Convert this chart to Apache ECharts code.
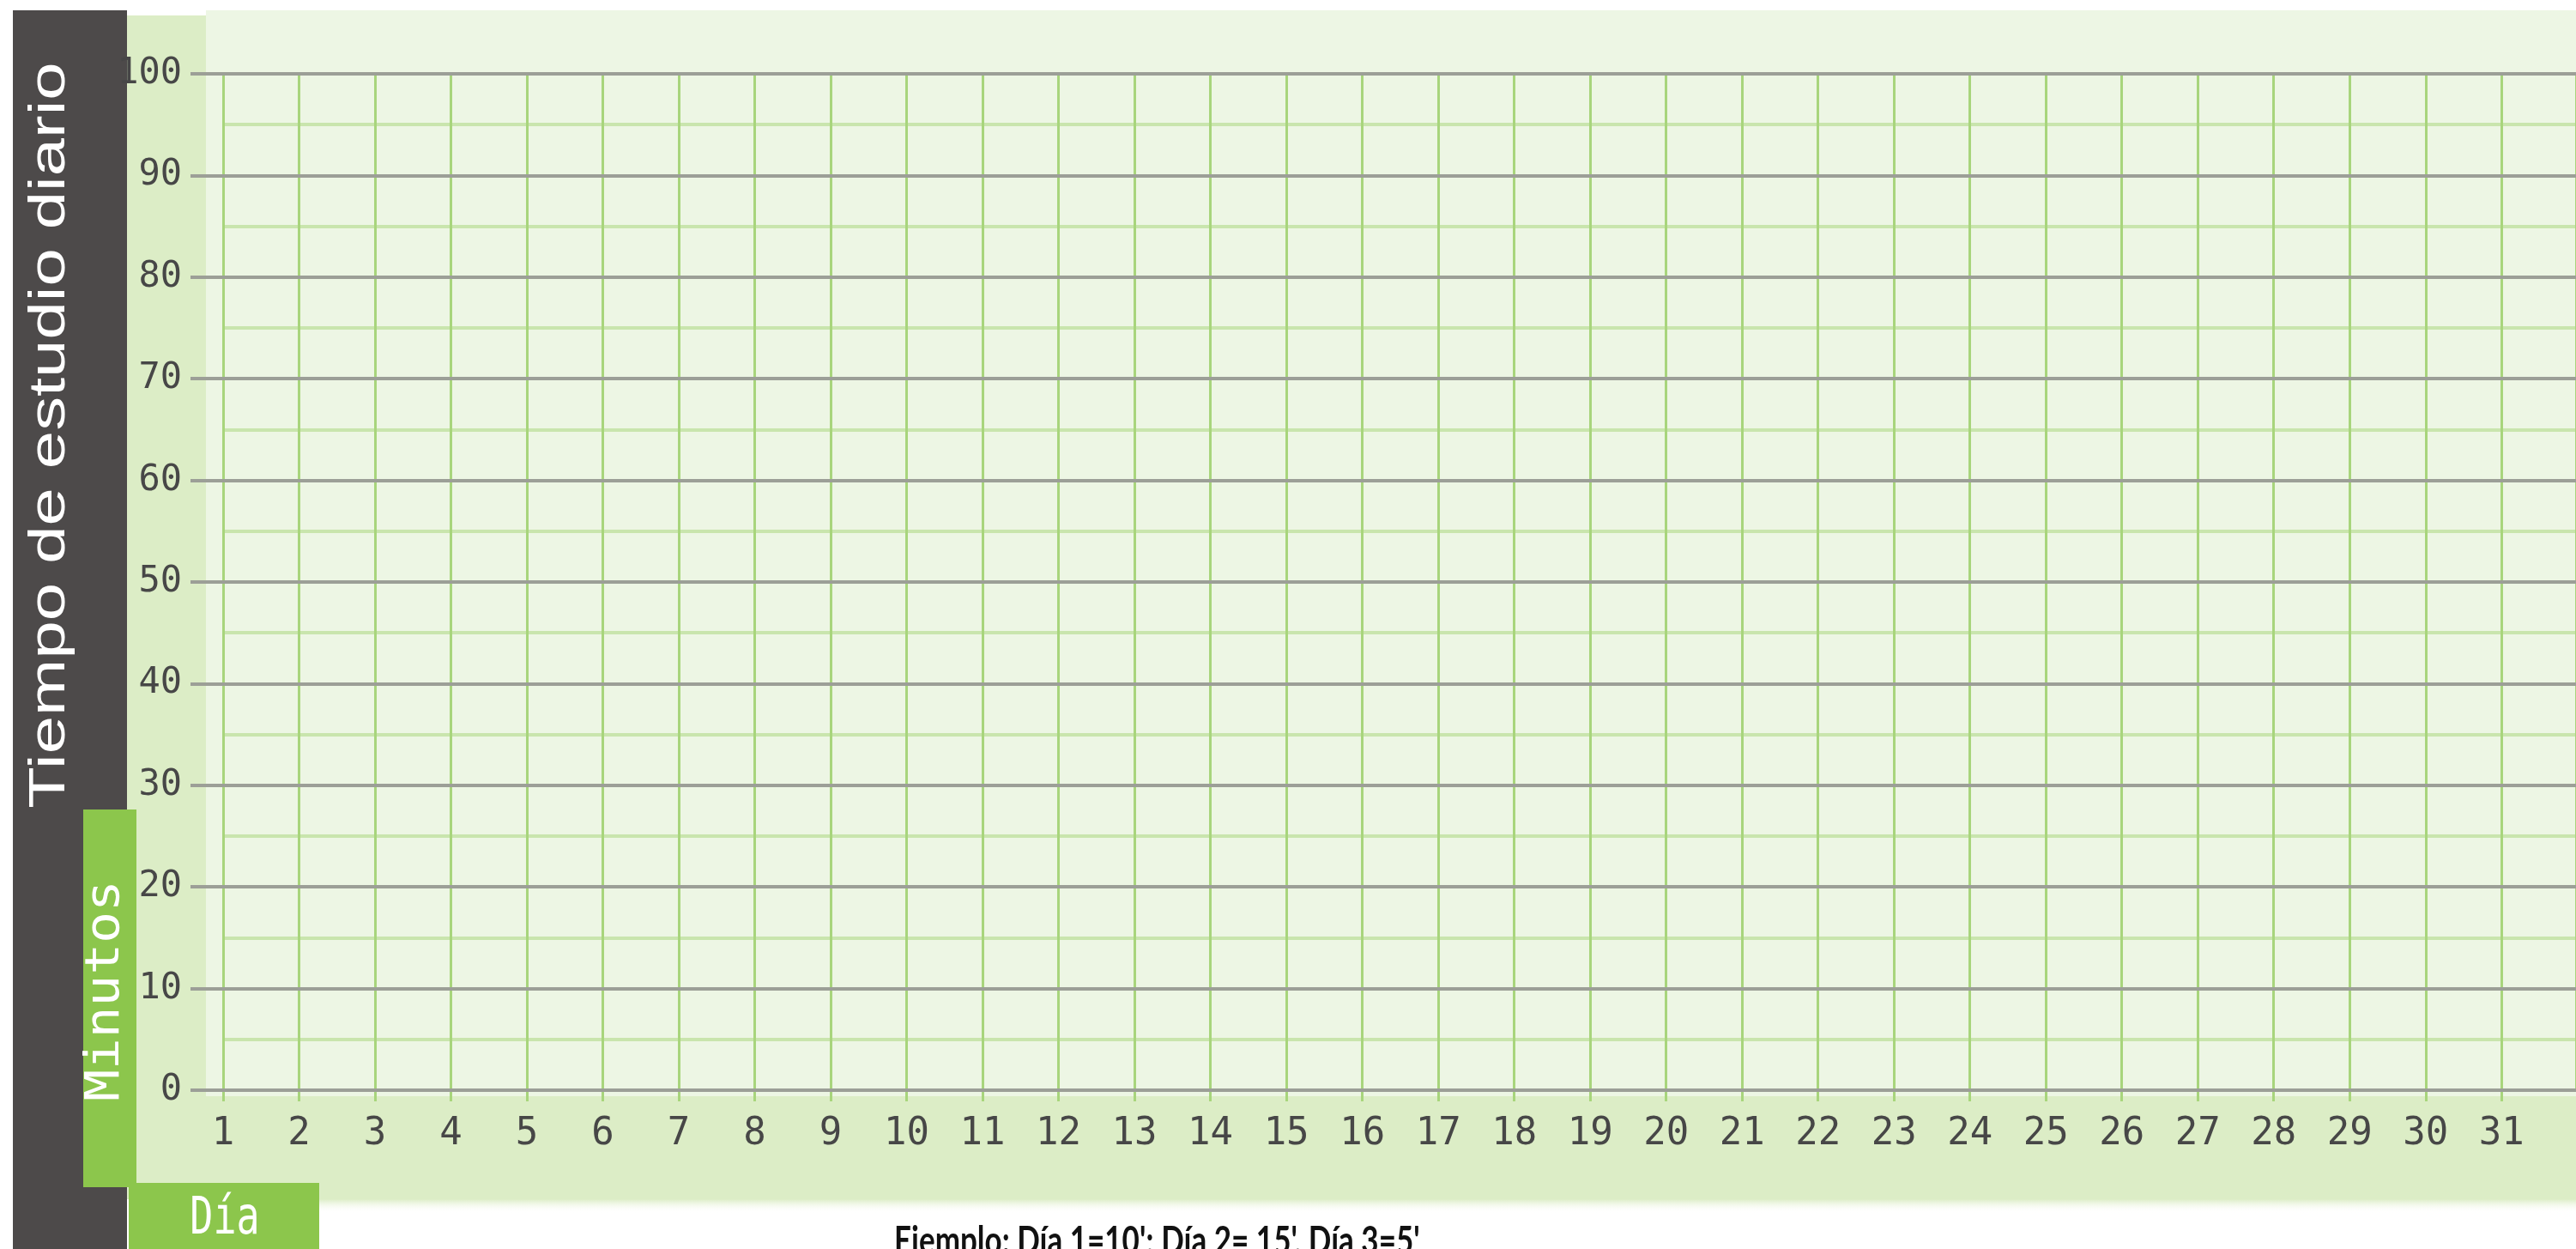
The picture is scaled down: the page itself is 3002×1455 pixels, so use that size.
<!DOCTYPE html>
<html>
<head>
<meta charset="utf-8">
<script src="https://cdn.jsdelivr.net/npm/echarts@6/dist/echarts.min.js"></script>
<style>
html,body{margin:0;padding:0;background:#ffffff;}
#chart{width:3002px;height:1455px;}
</style>
</head>
<body>
<div id="chart"></div>
<script>
// ---- data ----
const days = [1,2,3,4,5,6,7,8,9,10,11,12,13,14,15,16,17,18,19,20,21,22,23,24,25,26,27,28,29,30,31];
const minuteTicks = [0,10,20,30,40,50,60,70,80,90,100];
const studyMinutes = []; // blank worksheet: no values plotted
const titleText = 'Tiempo de estudio diario';
const yName = 'Minutos';
const xName = 'Día';
const noteText = "Ejemplo: Día 1=10'; Día 2= 15', Día 3=5'";

const chart = echarts.init(document.getElementById('chart'), null, {renderer:'canvas'});

const gray = '#9c9f97';
const vGreen = '#a8d57c';
const hGreen = '#c9e5ad';
const labelColor = '#474747';
const monoFont = '"DejaVu Sans Mono", monospace';

const option = {
  backgroundColor: '#ffffff',
  animation: false,
  grid: [
    {left: 222, right: 0, top: 86, bottom: 185},
    {left: 260, right: -3, top: 86, bottom: 185}
  ],
  xAxis: [
    {gridIndex: 0, type: 'value', min: 0, max: 1, show: false},
    {
      gridIndex: 1, type: 'value',
      min: days[0], max: days[days.length - 1] + 0.98, interval: 1,
      axisLine: {show: false},
      axisTick: {show: true, length: 13, lineStyle: {color: vGreen, width: 3}},
      axisLabel: {
        margin: 30, color: labelColor, fontFamily: monoFont, fontSize: 44,
        showMaxLabel: false,
        formatter: v => days.includes(v) ? String(v) : ''
      },
      splitLine: {show: true, lineStyle: {color: vGreen, width: 3}}
    }
  ],
  yAxis: [
    {
      gridIndex: 0, type: 'value', z: 3,
      min: minuteTicks[0], max: minuteTicks[minuteTicks.length - 1], interval: 10,
      axisLine: {show: false}, axisTick: {show: false},
      axisLabel: {margin: 10, color: labelColor, fontFamily: monoFont, fontSize: 42},
      splitLine: {show: true, lineStyle: {color: gray, width: 4}}
    },
    {
      gridIndex: 1, type: 'value',
      min: minuteTicks[0], max: minuteTicks[minuteTicks.length - 1], interval: 10,
      axisLine: {show: false}, axisTick: {show: false}, axisLabel: {show: false},
      splitLine: {show: false},
      minorTick: {show: false, splitNumber: 2},
      minorSplitLine: {show: true, lineStyle: {color: hGreen, width: 4}}
    }
  ],
  series: [
    {type: 'line', xAxisIndex: 1, yAxisIndex: 1, data: studyMinutes, silent: true}
  ],
  graphic: {
    elements: [
      // light plot panel
      {type: 'rect', z: -10, shape: {x: 240, y: 12, width: 2762, height: 1265}, style: {fill: '#edf6e4'}},
      // medium green column and bottom band
      {type: 'rect', z: -9, shape: {x: 148, y: 18, width: 92, height: 1379}, style: {fill: '#dcedc6'}},
      {type: 'rect', z: -9, shape: {x: 148, y: 1277, width: 2854, height: 120}, style: {fill: '#dcedc6'}},
      {type: 'rect', z: -9, shape: {x: 372, y: 1397, width: 2630, height: 16},
        style: {fill: new echarts.graphic.LinearGradient(0, 0, 0, 1, [{offset: 0, color: '#dcedc6'}, {offset: 1, color: 'rgba(255,255,255,0)'}])}},
      // dark side panel
      {type: 'rect', z: -8, shape: {x: 15, y: 12, width: 133, height: 1443}, style: {fill: '#4d4a4a'}},
      // green label boxes
      {type: 'rect', z: -7, shape: {x: 97, y: 943, width: 62, height: 440}, style: {fill: '#8cc64c'}},
      {type: 'rect', z: -7, shape: {x: 150, y: 1378, width: 222, height: 77}, style: {fill: '#8cc64c'}},
      // texts
      {type: 'text', z: 50, x: 59, y: 507, rotation: Math.PI / 2, scaleX: 1.35,
        style: {text: titleText, fill: '#ffffff', fontSize: 59, fontFamily: '"Liberation Sans", Arial, sans-serif', align: 'center', verticalAlign: 'middle'}},
      {type: 'text', z: 50, x: 124, y: 1154, rotation: Math.PI / 2, scaleX: 1.11,
        style: {text: yName, fill: '#ffffff', fontSize: 55, fontFamily: monoFont, align: 'center', verticalAlign: 'middle'}},
      {type: 'text', z: 50, x: 262, y: 1421, scaleY: 1.35,
        style: {text: xName, fill: '#ffffff', fontSize: 45, fontFamily: monoFont, align: 'center', verticalAlign: 'middle'}},
      {type: 'text', z: 50, x: 1042, y: 1424, scaleY: 1.3,
        style: {text: noteText, fill: '#111111', fontSize: 35, fontWeight: 'bold', fontFamily: 'Lato, "Open Sans", sans-serif', align: 'left', verticalAlign: 'top'}}
    ]
  }
};
chart.setOption(option);
</script>
</body>
</html>
